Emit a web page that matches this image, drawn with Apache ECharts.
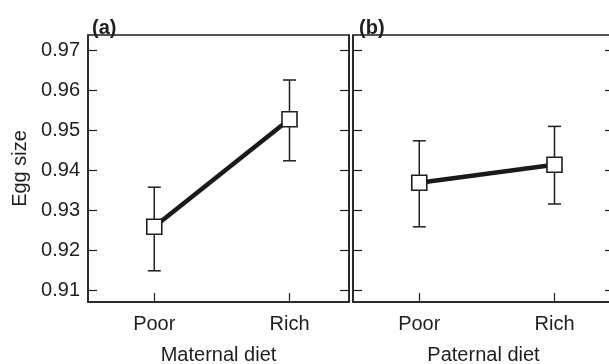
<!DOCTYPE html>
<html><head><meta charset="utf-8">
<script src="https://cdn.jsdelivr.net/npm/echarts@6/dist/echarts.min.js"></script>
<style>html,body{margin:0;padding:0;background:#fff}#c{width:609px;height:364px}</style>
</head><body><div id="c"></div>
<script>
const categories = ['Poor', 'Rich'];
const yTicks = [0.91, 0.92, 0.93, 0.94, 0.95, 0.96, 0.97];
const maternalMean = [0.9258, 0.9527];
const maternalLow = [0.9148, 0.9423];
const maternalHigh = [0.9357, 0.9625];
const paternalMean = [0.9368, 0.9413];
const paternalLow = [0.9258, 0.9315];
const paternalHigh = [0.9473, 0.9509];

const FONT = 'Liberation Sans, Arial, Helvetica, sans-serif';
const INK = '#1e1e1e';
const yMin = 0.907, yMax = 0.97375;
const xMin = -0.49, xMax = 1.44;

const gridBase = {top: 35, width: 261, height: 267, borderColor: INK, borderWidth: 1.5, outerBoundsMode: 'none', containLabel: false};
const grids = [
  Object.assign({left: 88, show: true}, gridBase),
  Object.assign({left: 353, show: true}, gridBase)
];
function xAxis(i, name) {
  return {
    type: 'value', gridIndex: i, min: xMin, max: xMax, name: name,
    nameLocation: 'middle', nameGap: 43,
    nameTextStyle: {fontFamily: FONT, fontSize: 20, color: INK},
    axisLine: {show: true, onZero: false, lineStyle: {color: INK, width: 1.5}},
    axisTick: {show: true, inside: true, length: 9, customValues: [0, 1], lineStyle: {color: INK, width: 1.2}},
    axisLabel: {show: true, customValues: [0, 1], margin: 12, fontFamily: FONT, fontSize: 20, color: INK,
      formatter: v => categories[Math.round(v)]},
    splitLine: {show: false}
  };
}
function yAxis(i, pos, labels, name) {
  return {
    type: 'value', gridIndex: i, min: yMin, max: yMax, position: pos,
    name: name || '', nameLocation: 'middle', nameGap: 58,
    nameTextStyle: {fontFamily: FONT, fontSize: 20, color: INK},
    axisLine: {show: true, onZero: false, lineStyle: {color: INK, width: 1.5}},
    axisTick: {show: true, inside: true, length: 9, customValues: yTicks, lineStyle: {color: INK, width: 1.2}},
    axisLabel: {show: labels, customValues: yTicks, margin: 8, fontFamily: FONT, fontSize: 20, color: INK,
      formatter: v => v.toFixed(2)},
    splitLine: {show: false}
  };
}
function errSeries(xi, yi, low, high) {
  return {
    type: 'custom', xAxisIndex: xi, yAxisIndex: yi, z: 2,
    data: low.map((l, k) => [k, l, high[k]]),
    renderItem: (params, api) => {
      const x = api.value(0);
      const p1 = api.coord([x, api.value(1)]);
      const p2 = api.coord([x, api.value(2)]);
      const w = 6.5;
      const st = {stroke: INK, lineWidth: 1.5};
      return {type: 'group', children: [
        {type: 'line', shape: {x1: p1[0], y1: p1[1], x2: p2[0], y2: p2[1]}, style: st},
        {type: 'line', shape: {x1: p1[0]-w, y1: p1[1], x2: p1[0]+w, y2: p1[1]}, style: st},
        {type: 'line', shape: {x1: p2[0]-w, y1: p2[1], x2: p2[0]+w, y2: p2[1]}, style: st}
      ]};
    }
  };
}
function lineSeries(xi, yi, mean) {
  return {
    type: 'line', xAxisIndex: xi, yAxisIndex: yi, z: 3,
    data: mean.map((m, k) => [k, m]),
    symbol: 'rect', symbolSize: 15,
    itemStyle: {color: '#fff', borderColor: INK, borderWidth: 1.6},
    lineStyle: {color: '#1a1a1a', width: 4.5},
    emphasis: {disabled: true}, silent: true
  };
}
const chart = echarts.init(document.getElementById('c'), null, {renderer: 'canvas'});
chart.setOption({
  animation: false,
  backgroundColor: '#fff',
  title: [
    {text: '(a)', left: 87, top: 13, textStyle: {fontFamily: FONT, fontSize: 20, fontWeight: 'bold', color: INK}},
    {text: '(b)', left: 354, top: 13, textStyle: {fontFamily: FONT, fontSize: 20, fontWeight: 'bold', color: INK}}
  ],
  grid: grids,
  xAxis: [xAxis(0, 'Maternal diet'), xAxis(1, 'Paternal diet')],
  yAxis: [
    yAxis(0, 'left', true, 'Egg size'),
    yAxis(0, 'right', false),
    yAxis(1, 'left', false),
    yAxis(1, 'right', false)
  ],
  series: [
    errSeries(0, 0, maternalLow, maternalHigh),
    lineSeries(0, 0, maternalMean),
    errSeries(1, 2, paternalLow, paternalHigh),
    lineSeries(1, 2, paternalMean)
  ]
});
</script></body></html>
